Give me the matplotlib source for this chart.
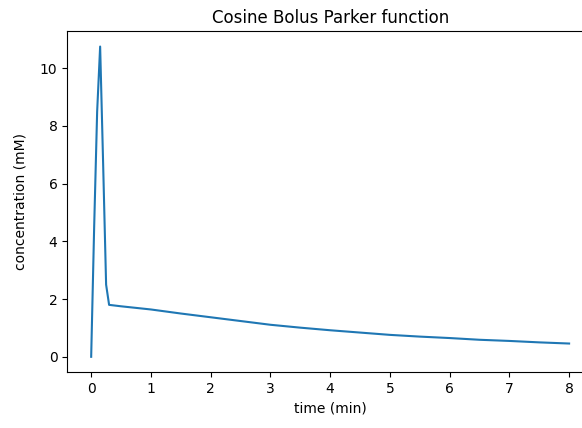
import matplotlib
matplotlib.use("Agg")
import matplotlib.pyplot as plt

# sampled bolus curve: fast cosine peak, then slow washout
time_min = [0.0, 0.05, 0.10, 0.15, 0.20, 0.25, 0.30,
            0.5, 1.0, 1.5, 2.0, 2.5, 3.0, 3.5, 4.0,
            4.5, 5.0, 5.5, 6.0, 6.5, 7.0, 7.5, 8.0]
conc_mM = [0.0, 4.5, 8.5, 10.75, 6.7, 2.5, 1.80,
           1.75, 1.64, 1.50, 1.37, 1.24, 1.11, 1.01, 0.92,
           0.84, 0.76, 0.70, 0.65, 0.59, 0.55, 0.50, 0.46]

fig = plt.figure(figsize=(5.82, 4.28), dpi=100)
# axes runs past the right edge of the canvas
ax = fig.add_axes([0.1156, 0.1301, 0.9033, 0.7974])
ax.plot(time_min, conc_mM)

ax.set_title("Cosine Bolus Parker function")
ax.set_xlabel("time (min)")
ax.set_ylabel("concentration (mM)", labelpad=9)

fig.savefig("out.png", dpi=100)
